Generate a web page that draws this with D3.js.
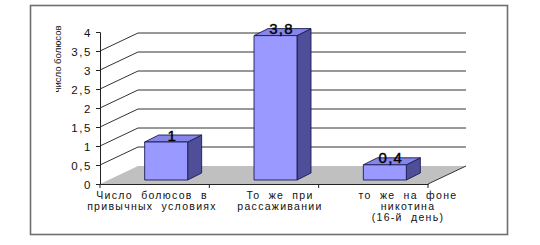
<!DOCTYPE html>
<html>
<head>
<meta charset="utf-8">
<script src="https://cdn.jsdelivr.net/npm/d3@7"></script>
<style>
  body { margin: 0; background: #fff; }
  text { font-family: Arial, "Liberation Sans", sans-serif; }
</style>
</head>
<body>
<div id="chart"></div>
<script>
// chart data
var categories = ["Число болюсов в\nпривычных условиях", "То же при\nрассаживании", "то же на фоне\nникотина\n(16-й день)"];
var values = [1, 3.8, 0.4];
var valueLabels = ["1", "3,8", "0,4"];
var yTicks = [0, 0.5, 1, 1.5, 2, 2.5, 3, 3.5, 4];
var gridValues = [0.5, 1, 1.5, 2, 2.5, 3, 3.5];
var yTitle = "число болюсов";

var W = 540, H = 245;
var depth = {dx: 38, dy: -18};     // floor / wall depth
var barDepth = {dx: 14, dy: -7};   // depth of each column
var barShift = {dx: 11.5, dy: -4}; // columns sit a bit behind the front
var barW = 43;

var svg = d3.select("#chart").append("svg")
  .attr("width", W).attr("height", H);

// frame
svg.append("rect")
  .attr("x", 30.5).attr("y", 5.5).attr("width", 477).attr("height", 229)
  .attr("fill", "#fff").attr("stroke", "#6f6f6f").attr("stroke-width", 1.6);

var x = d3.scaleBand().domain(categories).range([100, 428]);
var y = d3.scaleLinear().domain([0, 4]).range([184, 32]);
var labelX = d3.scalePoint().domain(categories).range([152, 408]);

// floor
var x0 = x.range()[0], x1 = x.range()[1], yb = y(0);
svg.append("path")
  .attr("d", "M" + x0 + "," + yb + "L" + x1 + "," + yb +
    "L" + (x1 + depth.dx) + "," + (yb + depth.dy) +
    "L" + (x0 + depth.dx) + "," + (yb + depth.dy) + "Z")
  .attr("fill", "#c0c0c0");
svg.append("line")
  .attr("x1", x1).attr("y1", yb).attr("x2", x1 + depth.dx).attr("y2", yb + depth.dy)
  .attr("stroke", "#333").attr("stroke-width", 1);

// back wall gridlines + side wall diagonals
var grid = svg.append("g").attr("stroke", "#333").attr("stroke-width", 1).attr("fill", "none");
grid.selectAll(".back").data(gridValues).enter().append("line")
  .attr("x1", x0 + depth.dx).attr("x2", x1 + depth.dx)
  .attr("y1", function(d) { return y(d) + depth.dy; })
  .attr("y2", function(d) { return y(d) + depth.dy; });
grid.selectAll(".side").data(gridValues).enter().append("line")
  .attr("x1", x0).attr("x2", x0 + depth.dx)
  .attr("y1", function(d) { return y(d); })
  .attr("y2", function(d) { return y(d) + depth.dy; });

// y axis
var yAxis = svg.append("g")
  .attr("transform", "translate(" + x0 + ",0)")
  .call(d3.axisLeft(y).tickValues(yTicks).tickSize(4).tickPadding(4)
    .tickFormat(function(d) { return String(d).replace(".", ","); }));
yAxis.select(".domain").attr("stroke", "#222");
yAxis.selectAll(".tick line").attr("stroke", "#222");
yAxis.selectAll("text")
  .attr("font-size", 11.5).attr("fill", "#111")
  .attr("letter-spacing", 1.6).attr("dy", "0.35em");

// x axis
var xAxis = svg.append("g")
  .attr("transform", "translate(0," + yb + ")")
  .call(d3.axisBottom(x).tickSize(0).tickFormat(""));
xAxis.select(".domain").attr("stroke", "#222");
xAxis.selectAll(".sep").data(d3.range(categories.length + 1)).enter().append("line")
  .attr("x1", function(i) { return x0 + i * x.step(); })
  .attr("x2", function(i) { return x0 + i * x.step(); })
  .attr("y1", 0).attr("y2", 4).attr("stroke", "#222");

// columns
var bars = svg.append("g").selectAll("g").data(values).enter().append("g");
function fx(i) { return x(categories[i]) + x.bandwidth() / 2 - barW / 2 + barShift.dx; }
function pts(a) { return a.map(function(p) { return p.join(","); }).join(" "); }
bars.each(function(v, i) {
  var g = d3.select(this);
  var l = fx(i), r = l + barW;
  var b = y(0) + barShift.dy, t = y(v) + barShift.dy;
  var dx = barDepth.dx, dy = barDepth.dy;
  g.append("polygon")
    .attr("points", pts([[r, b], [r + dx, b + dy], [r + dx, t + dy], [r, t]]))
    .attr("fill", "#4f4f99");
  g.append("polygon")
    .attr("points", pts([[l, t], [r, t], [r + dx, t + dy], [l + dx, t + dy]]))
    .attr("fill", "#8585ea");
  g.append("rect")
    .attr("x", l).attr("y", t).attr("width", barW).attr("height", b - t)
    .attr("fill", "#9999ff");
  g.selectAll("polygon, rect").attr("stroke", "#1c1c55").attr("stroke-width", 0.9)
    .attr("stroke-linejoin", "round");
});

// value labels
svg.append("g").selectAll("text").data(values).enter().append("text")
  .attr("x", function(d, i) { return fx(i) + barW / 2 + 6; })
  .attr("y", function(d) { return y(d) + barShift.dy - 1.5; })
  .attr("text-anchor", "middle")
  .attr("font-size", 15).attr("letter-spacing", 1.2).attr("fill", "#000")
  .attr("stroke", "#000").attr("stroke-width", 0.4)
  .text(function(d, i) { return valueLabels[i]; });

// category labels
var cl = svg.append("g").selectAll("text").data(categories).enter().append("text")
  .attr("text-anchor", "middle")
  .attr("font-size", 10.5).attr("fill", "#111")
  .attr("letter-spacing", 1.3).attr("word-spacing", 4);
cl.each(function(d) {
  var t = d3.select(this);
  d.split("\n").forEach(function(line, k) {
    t.append("tspan").attr("x", labelX(d)).attr("y", 198.5 + k * 11).text(line);
  });
});

// y title
svg.append("text")
  .attr("transform", "translate(61,59) rotate(-90)")
  .attr("text-anchor", "middle")
  .attr("font-size", 9.5).attr("fill", "#111")
  .text(yTitle);
</script>
</body>
</html>
